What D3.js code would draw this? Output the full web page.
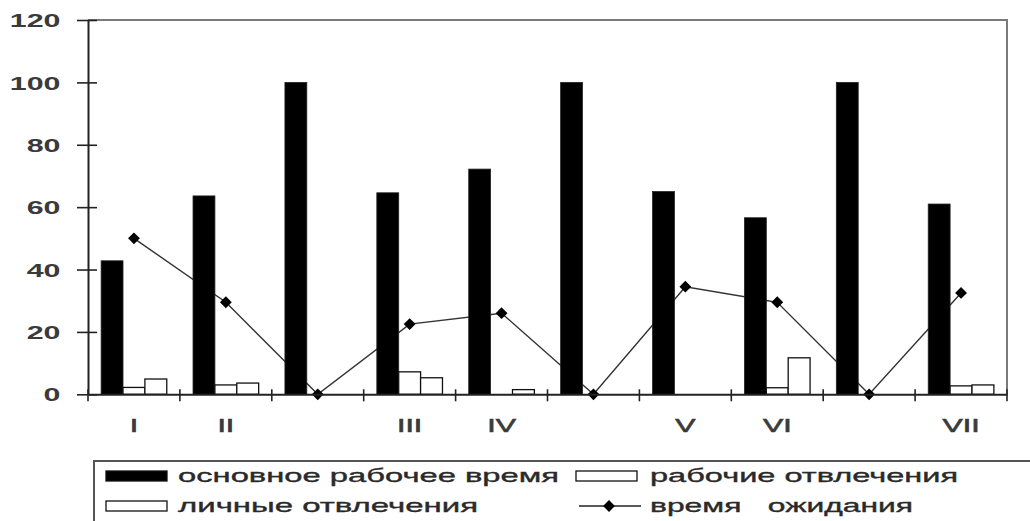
<!DOCTYPE html>
<html><head><meta charset="utf-8">
<script src="https://cdn.jsdelivr.net/npm/d3@7"></script>
<style>body{margin:0;background:#fff} svg{display:block}</style>
</head><body><svg id="c" width="1030" height="521"></svg>
<script>
const categories = ["I","II","","III","IV","","V","VI","","VII"];
const mainWork = [42.8,63.6,100,64.6,72.2,100,65,56.6,100,61];
const workDistr = [2.2,3,0,7.2,0,0,0,2.1,0,2.7];
const personalDistr = [4.9,3.6,0,5.3,1.5,0,0,11.7,0,3];
const waiting = [50,29.5,0,22.5,26,0,34.5,29.5,0,32.5];
const yTicks = [0,20,40,60,80,100,120];
const seriesNames = ["основное рабочее время","рабочие отвлечения","личные отвлечения","время   ожидания"];

const svg = d3.select("#c");
const m = {l:88, r:1007, t:20, b:394.3};
const n = categories.length;
const x = d3.scaleBand().domain(d3.range(n)).range([m.l, m.r]).padding(0);
const y = d3.scaleLinear().domain([0,120]).range([m.b, m.t]);
const x1 = d3.scaleBand().domain([0,1,2]).range([0, x.bandwidth()]).paddingInner(0).paddingOuter(0.6);
const FONT = "'Liberation Sans', Arial, sans-serif";
const SX = 1.6;

// frame (top & right)
svg.append("path")
  .attr("d", `M${m.l},${y(120)}H${m.r}V${m.b}`)
  .attr("fill","none").attr("stroke","#7a7a7a").attr("stroke-width",2);

// waiting line (behind bars)
const cx = i => x(i) + x.bandwidth()/2;
svg.append("path").datum(waiting)
  .attr("d", d3.line().x((d,i)=>cx(i)).y(d=>y(d)))
  .attr("fill","none").attr("stroke","#333").attr("stroke-width",1.4);

// bars
const seriesVals = [mainWork, workDistr, personalDistr];
seriesVals.forEach((vals, s) => {
  svg.append("g").selectAll("rect")
    .data(vals.map((v,i)=>({v,i})).filter(d=>d.v>0))
    .join("rect")
    .attr("x", d => x(d.i) + x1(s))
    .attr("width", x1.bandwidth())
    .attr("y", d => y(d.v))
    .attr("height", d => y(0) - y(d.v))
    .attr("fill", s===0 ? "#000" : "#fff")
    .attr("stroke", s===0 ? "#222" : "#111")
    .attr("stroke-width", s===0 ? 0.8 : 1.3);
});

// markers
const diamond = d3.symbol().type(d3.symbolSquare).size(70);
svg.append("g").selectAll("path")
  .data(waiting)
  .join("path")
  .attr("d", diamond)
  .attr("transform", (d,i)=>`translate(${cx(i)},${y(d)}) rotate(45)`)
  .attr("fill","#000");

// y axis
const yAxis = svg.append("g").attr("transform",`translate(${m.l},0)`)
  .call(d3.axisLeft(y).tickValues(yTicks).tickSizeOuter(0));
yAxis.select(".domain").attr("stroke","#222").attr("stroke-width",2);
yAxis.selectAll(".tick line").attr("x1",9).attr("x2",-11).attr("stroke","#222").attr("stroke-width",1.6);
yAxis.selectAll(".tick text")
  .attr("x",0).attr("dy","0.35em")
  .attr("transform",`translate(-27.5,0) scale(${SX},1)`)
  .attr("font-family",FONT).attr("font-size",19).attr("font-weight","bold").attr("fill","#3a3a3a")
  .attr("text-anchor","end");

// x axis
const xAxis = svg.append("g").attr("transform",`translate(0,${m.b})`)
  .call(d3.axisBottom(x).tickFormat(i=>categories[i]).tickSize(0));
xAxis.select(".domain").attr("stroke","#222").attr("stroke-width",2);
xAxis.selectAll(".tick text")
  .attr("y",0).attr("dy",0)
  .attr("transform",`translate(0,38) scale(${SX},1)`)
  .attr("font-family",FONT).attr("font-size",19).attr("fill","#3a3a3a")
  .attr("stroke","#3a3a3a").attr("stroke-width",0.6);
const bounds = d3.range(n+1).map(i => i<n ? x(i) : x(n-1)+x.bandwidth());
xAxis.append("g").selectAll("line").data(bounds).join("line")
  .attr("x1",d=>d).attr("x2",d=>d).attr("y1",-5).attr("y2",7)
  .attr("stroke","#222").attr("stroke-width",1.6);

// legend
const lg = svg.append("g");
lg.append("rect").attr("x",94).attr("y",461).attr("width",1000).attr("height",100)
  .attr("fill","#fff").attr("stroke","#555").attr("stroke-width",2);
const items = [
  {name:seriesNames[0], kind:"black", sx:106, tx:178, w:381, row:0},
  {name:seriesNames[1], kind:"white", sx:576, tx:650, w:308, row:0},
  {name:seriesNames[2], kind:"white", sx:106, tx:178, w:300, row:1},
  {name:seriesNames[3], kind:"line",  sx:579, tx:650, w:263, row:1}
];
const rowY = [476, 506];
items.forEach(it => {
  const cy = rowY[it.row];
  if (it.kind === "line") {
    lg.append("line").attr("x1",it.sx).attr("x2",it.sx+62).attr("y1",cy).attr("y2",cy)
      .attr("stroke","#222").attr("stroke-width",1.6);
    lg.append("path").attr("d",diamond).attr("transform",`translate(${it.sx+30},${cy}) rotate(45)`).attr("fill","#000");
  } else {
    lg.append("rect").attr("x",it.sx).attr("y",cy-5).attr("width",61).attr("height",10)
      .attr("fill", it.kind==="black" ? "#000" : "#fff")
      .attr("stroke","#111").attr("stroke-width",1.3);
  }
  lg.append("text").attr("x",it.tx).attr("y",cy+6)
    .attr("font-family",FONT).attr("font-size",19).attr("fill","#2a2a2a")
    .attr("stroke","#2a2a2a").attr("stroke-width",0.35)
    .attr("textLength",it.w).attr("lengthAdjust","spacingAndGlyphs")
    .style("white-space","pre")
    .text(it.name);
});
</script></body></html>
